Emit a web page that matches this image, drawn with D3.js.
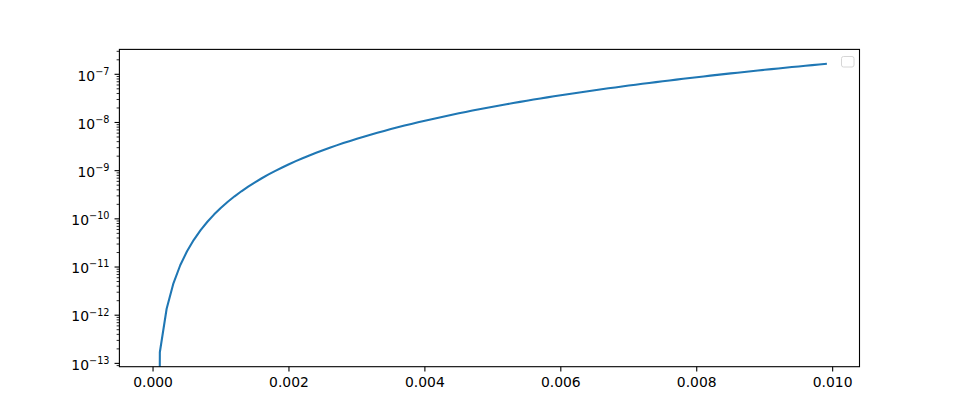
<!DOCTYPE html>
<html><head><meta charset="utf-8">
<script src="https://cdn.jsdelivr.net/npm/d3@7"></script>
<style>body{margin:0;background:#fff}svg{display:block}text{font-family:"DejaVu Sans",sans-serif;fill:#000}</style>
</head><body><svg id="c" width="955" height="412"></svg>
<script>
const xValues = [0,0.0001,0.0002,0.0003,0.0004,0.0005,0.0006,0.0007,0.0008,0.0009,
0.0010,0.0011,0.0012,0.0013,0.0014,0.0015,0.0016,0.0017,0.0018,0.0019,
0.0020,0.0021,0.0022,0.0023,0.0024,0.0025,0.0026,0.0027,0.0028,0.0029,
0.0030,0.0031,0.0032,0.0033,0.0034,0.0035,0.0036,0.0037,0.0038,0.0039,
0.0040,0.0041,0.0042,0.0043,0.0044,0.0045,0.0046,0.0047,0.0048,0.0049,
0.0050,0.0051,0.0052,0.0053,0.0054,0.0055,0.0056,0.0057,0.0058,0.0059,
0.0060,0.0061,0.0062,0.0063,0.0064,0.0065,0.0066,0.0067,0.0068,0.0069,
0.0070,0.0071,0.0072,0.0073,0.0074,0.0075,0.0076,0.0077,0.0078,0.0079,
0.0080,0.0081,0.0082,0.0083,0.0084,0.0085,0.0086,0.0087,0.0088,0.0089,
0.0090,0.0091,0.0092,0.0093,0.0094,0.0095,0.0096,0.0097,0.0098,0.0099];
const yValues = [0,1.70e-13,1.36e-12,4.59e-12,1.088e-11,2.125e-11,3.672e-11,5.831e-11,8.704e-11,1.239e-10,
1.70e-10,2.263e-10,2.938e-10,3.735e-10,4.665e-10,5.738e-10,6.963e-10,8.352e-10,9.914e-10,1.166e-9,
1.36e-9,1.574e-9,1.810e-9,2.068e-9,2.350e-9,2.656e-9,2.988e-9,3.346e-9,3.732e-9,4.146e-9,
4.59e-9,5.064e-9,5.571e-9,6.109e-9,6.682e-9,7.289e-9,7.932e-9,8.611e-9,9.328e-9,1.008e-8,
1.088e-8,1.172e-8,1.259e-8,1.352e-8,1.448e-8,1.549e-8,1.655e-8,1.765e-8,1.880e-8,2.000e-8,
2.125e-8,2.255e-8,2.390e-8,2.531e-8,2.677e-8,2.828e-8,2.985e-8,3.148e-8,3.317e-8,3.491e-8,
3.672e-8,3.859e-8,4.052e-8,4.251e-8,4.456e-8,4.669e-8,4.887e-8,5.113e-8,5.345e-8,5.585e-8,
5.831e-8,6.084e-8,6.345e-8,6.613e-8,6.889e-8,7.172e-8,7.463e-8,7.761e-8,8.067e-8,8.382e-8,
8.704e-8,9.034e-8,9.373e-8,9.720e-8,1.008e-7,1.044e-7,1.081e-7,1.119e-7,1.159e-7,1.198e-7,
1.239e-7,1.281e-7,1.324e-7,1.367e-7,1.412e-7,1.458e-7,1.504e-7,1.552e-7,1.600e-7,1.650e-7];
const xTickValues = [0, 0.002, 0.004, 0.006, 0.008, 0.010];
const xTickLabels = ["0.000","0.002","0.004","0.006","0.008","0.010"];
const yTickExponents = [-13,-12,-11,-10,-9,-8,-7];

const W=955,H=412;
const L=119.4,R=859.5,T=49.4,B=366.7;
const svg=d3.select("#c");
const fs=13.9;

// matplotlib-like autoscale with 5% margins
const xMin=d3.min(xValues),xMax=d3.max(xValues),xm=(xMax-xMin)*0.05;
const x=d3.scaleLinear().domain([xMin-xm,xMax+xm]).range([L,R]);
const pos=yValues.filter(v=>v>0);
const lMin=Math.log10(d3.min(pos)),lMax=Math.log10(d3.max(pos)),lm=(lMax-lMin)*0.05;
const y=d3.scaleLog().domain([Math.pow(10,lMin-lm),Math.pow(10,lMax+lm)]).range([B,T]);

svg.append("defs").append("clipPath").attr("id","clip").append("rect")
  .attr("x",L).attr("y",T).attr("width",R-L).attr("height",B-T);

const pts=xValues.map((v,i)=>[v,yValues[i]]);
const line=d3.line().x(d=>x(d[0])).y(d=>d[1]>0?y(d[1]):B+2000);
svg.append("path").attr("d",line(pts)).attr("clip-path","url(#clip)")
  .attr("fill","none").attr("stroke","#1f77b4").attr("stroke-width",2.08)
  .attr("stroke-linejoin","round").attr("stroke-linecap","square");

// frame
svg.append("rect").attr("x",L).attr("y",T).attr("width",R-L).attr("height",B-T)
  .attr("fill","none").attr("stroke","#000").attr("stroke-width",1.1);

const ax=svg.append("g");
// x ticks
xTickValues.forEach((v,i)=>{
  const px=x(v);
  ax.append("line").attr("x1",px).attr("x2",px).attr("y1",B).attr("y2",B+4.86).attr("stroke","#000").attr("stroke-width",1.1);
  ax.append("text").attr("x",px).attr("y",B+20.2).attr("text-anchor","middle").attr("font-size",fs).text(xTickLabels[i]);
});
// y minor ticks
const [d0,d1]=y.domain();
for(let e=Math.floor(Math.log10(d0));e<=Math.ceil(Math.log10(d1));e++){
  for(let m=2;m<=9;m++){
    const v=m*Math.pow(10,e);
    if(v<d0||v>d1) continue;
    const py=y(v);
    ax.append("line").attr("x1",L-2.78).attr("x2",L).attr("y1",py).attr("y2",py).attr("stroke","#000").attr("stroke-width",0.84);
  }
}
// y major ticks
yTickExponents.forEach(e=>{
  const py=y(Math.pow(10,e));
  ax.append("line").attr("x1",L-4.86).attr("x2",L).attr("y1",py).attr("y2",py).attr("stroke","#000").attr("stroke-width",1.1);
  const t=ax.append("text").attr("x",L-9.9).attr("y",py+6.2).attr("text-anchor","end").attr("font-size",fs);
  t.append("tspan").text("10");
  t.append("tspan").attr("dy",-5.8).attr("font-size",9.7).text("\u2212"+Math.abs(e));
});

// empty legend
svg.append("rect").attr("x",841.5).attr("y",56.5).attr("width",12.5).attr("height",10.5).attr("rx",2)
  .attr("fill","#fff").attr("stroke","#d6d6d6").attr("stroke-width",1);
</script></body></html>
